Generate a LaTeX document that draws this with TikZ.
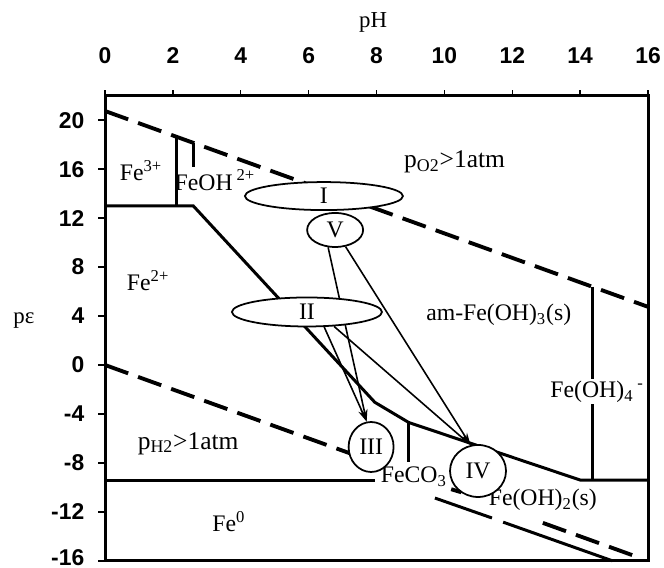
\documentclass[tikz,border=0pt]{standalone}
\usepackage{fontspec}
\setmainfont{Liberation Serif}
\setsansfont{Liberation Sans}
\usetikzlibrary{arrows.meta,shapes.geometric}

\begin{document}
\begin{tikzpicture}[x=0.6788cm,y=0.2448cm,>={Stealth[length=7pt,width=4pt]},every node/.style={font=\fontsize{13.5}{15}\selectfont},lbl/.style={inner sep=1pt},num/.style={font=\sffamily\bfseries\fontsize{13}{15}\selectfont,inner sep=1pt},frame/.style={line width=1.7pt},bnd/.style={line width=1.7pt},water/.style={line width=2.2pt,dash pattern=on 14pt off 6pt},ell/.style={draw,ellipse,line width=1pt,inner sep=0pt,fill=white},link/.style={->,line width=0.9pt}]
\useasboundingbox (-3.094,-16.58) rectangle (16.47,29.82);
\draw[frame] (0,-16) rectangle (16,22);
\foreach \x in {0,2,...,16} {
  \draw[line width=0.8pt] (\x,22) -- (\x,22.5);
  \node[num] (top\x) at (\x,25.3) {\x};
}
\foreach \y in {-12,-8,...,20} {
  \draw[line width=0.8pt] (-0.2,\y) -- (0,\y);
  \node[num,anchor=east] (left\y) at (-0.55,\y) {\y};
}
\draw[line width=0.8pt] (-0.2,-16) -- (0,-16);
\node[num,anchor=east] (left-16) at (-0.55,-15.75) {-16};
\node[font=\fontsize{13}{15}\selectfont] (phlab) at (7.9,28.0) {pH};
\node[font=\fontsize{13}{15}\selectfont] (pelab) at (-2.39,3.6) {pε};
\draw[water] (0,20.75) -- (16,4.75);
\draw[water] (0,0) -- (7.2,-7.2);
\draw[water] (10.2,-10.15) -- (10.5,-10.4);
\draw[water] (12.9,-12.9) -- (15.55,-15.55);
\draw[bnd] (0,13) -- (2.6,13) -- (7.95,-3.05) -- (8.95,-4.7) -- (14,-9.4) -- (16,-9.4);
\draw[bnd] (2.12,13) -- (2.12,18.6);
\draw[bnd] (2.6,16.2) -- (2.6,18.15);
\draw[bnd] (0,-9.4) -- (7.95,-9.4);
\draw[bnd] (8.93,-4.6) -- (8.93,-7.9);
\draw[bnd] (14.35,6.4) -- (14.35,-9.4);
\draw[bnd] (9.72,-10.87) -- (11.4,-12.5);
\draw[bnd] (11.73,-12.84) -- (14.95,-16);
\node[lbl] (fe3) at (1.06,15.85) {Fe\textsuperscript{3+}};
\node[lbl] (feoh) at (3.24,15.1) {FeOH\,\textsuperscript{2+}};
\node[lbl,font=\fontsize{14.5}{16}\selectfont] (po2) at (10.3,16.6) {p\textsubscript{O2}>1atm};
\node[lbl] (fe2) at (1.27,6.9) {Fe\textsuperscript{2+}};
\node[lbl] (amfe) at (11.6,4.1) {am-Fe(OH)\textsubscript{3}(s)};
\node[lbl,fill=white] (feoh4) at (14.5,-2.2) {Fe(OH)\textsubscript{4}\,\textsuperscript{-}};
\node[lbl,font=\fontsize{14.5}{16}\selectfont] (ph2) at (2.45,-6.4) {p\textsubscript{H2}>1atm};
\node[lbl] (fe0) at (3.65,-12.8) {Fe\textsuperscript{0}};
\node[lbl] (feco3) at (9.1,-9.1) {FeCO\textsubscript{3}};
\node[lbl] (feoh2) at (12.9,-11.0) {Fe(OH)\textsubscript{2}(s)};
\node[ell,minimum width=1.12cm,minimum height=0.68cm] (V) at (6.78,11.03) {V};
\node[ell,minimum width=0.9cm,minimum height=1.0cm] (III) at (7.84,-6.7) {III};
\node[ell,minimum width=1.12cm,minimum height=1.04cm] (IV) at (10.99,-8.66) {IV};
\draw[link] (V.-112) -- (III.100);
\draw[link] (V.-58) -- (IV.106);
\node[ell,minimum width=3.16cm,minimum height=0.56cm] (I) at (6.45,13.8) {I};
\node[ell,minimum width=3.0cm,minimum height=0.58cm] (II) at (5.95,4.33) {II};
\draw[link] (II.-41) -- (III.100);
\draw[link] (II.-28) -- (IV.106);
\end{tikzpicture}
\end{document}
